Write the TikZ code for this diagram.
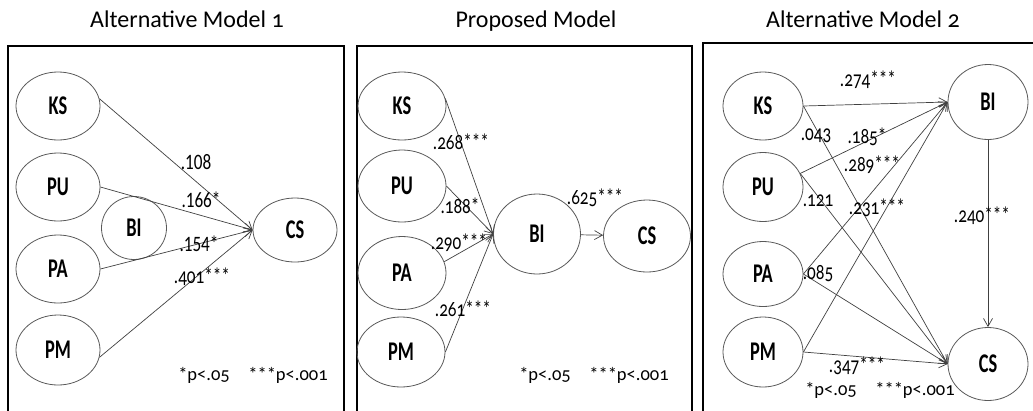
\documentclass[tikz,border=0pt]{standalone}
\usepackage{fontspec}
\setmainfont{Carlito}[Numbers=OldStyle]
\newfontfamily\latfont{Carlito}[FakeStretch=0.68]
\newfontfamily\coeffont{Carlito}[FakeStretch=0.78, Numbers=OldStyle]
\newfontfamily\coeflin{Carlito}[FakeStretch=0.78]
\usetikzlibrary{arrows.meta, shapes.geometric}

\begin{document}
\begin{tikzpicture}[
  x=1bp, y=-1bp,
  latent/.style={draw=black!65, ellipse, line width=0.8bp, inner sep=0pt,
    minimum width=84bp, minimum height=68bp,
    font=\latfont\bfseries\fontsize{27bp}{29bp}\selectfont},
  arr/.style={-{Straight Barb[length=8bp, width=9bp]}, line width=0.7bp, draw=black!75},
  coef/.style={inner sep=0pt, font=\coeffont\fontsize{22bp}{24bp}\selectfont},
  coeflin/.style={coef, font=\coeflin\fontsize{22bp}{24bp}\selectfont},
  note/.style={inner sep=0pt, font=\fontsize{18.5bp}{20bp}\selectfont},
  title/.style={inner sep=0pt, anchor=base, font=\fontsize{24bp}{26bp}\selectfont},
  panel/.style={draw, line width=1.8bp}
]
\useasboundingbox (0,0) rectangle (1033,410);
\clip (0,0) rectangle (1033,410);

% titles
\node[title] (t1) at (187,27) {Alternative Model 1};
\node[title] (t2) at (536,27) {Proposed Model};
\node[title] (t3) at (863,27) {Alternative Model 2};

% frames
\draw[panel] (8,46) rectangle (344,425);
\draw[panel] (357,46) rectangle (692,425);
\draw[panel] (703,43) rectangle (1045,425);

% alternative model 1
\node[latent] (KS1) at (58,106) {KS};
\node[latent] (PU1) at (58,187) {PU};
\node[latent] (PA1) at (58,269) {PA};
\node[latent, minimum height=70bp] (PM1) at (58,350) {PM};
\node[latent, minimum width=65bp, minimum height=63bp] (BI1) at (134,228) {BI};
\node[latent, minimum height=64bp] (CS1) at (295,230) {CS};
\draw[arr] (KS1.10) -- (CS1.west) node[coeflin] at (196,162) {.108};
\draw[arr] (PU1.east) -- (CS1.west) node[coeflin] at (201,200) {.166*};
\draw[arr] (PA1.east) -- (CS1.west) node[coeflin] at (199,244) {.154*};
\draw[arr] (PM1.-10) -- (CS1.west) node[coef] at (202,277) {.401***};
\node[note] (n1) at (253,375) {*p<.05\quad ***p<.001};

% proposed model
\node[latent, minimum width=88bp] (KS2) at (402,106) {KS};
\node[latent, minimum width=88bp, minimum height=72bp] (PU2) at (402,186) {PU};
\node[latent, minimum width=88bp, minimum height=73bp] (PA2) at (402,273) {PA};
\node[latent, minimum width=88bp, minimum height=70bp] (PM2) at (401,352) {PM};
\node[latent, minimum width=87bp, minimum height=80bp] (BI2) at (537,234) {BI};
\node[latent, minimum width=87bp, minimum height=72bp] (CS2) at (647,236) {CS};
\draw[arr] (KS2.10) -- (BI2.west) node[coef] at (461,142) {.268***};
\draw[arr] (PU2.east) -- (BI2.west) node[coef] at (460,206) {.188*};
\draw[arr] (PA2.15) -- (BI2.west) node[coef] at (459,243) {.290***};
\draw[arr] (PM2.east) -- (BI2.west) node[coef] at (463,309) {.261***};
\draw[arr] (BI2) -- (CS2) node[coef] at (595,198) {.625***};
\node[note] (n2) at (594,375) {*p<.05\quad ***p<.001};

% alternative model 2
\node[latent, minimum width=80bp] (KS3) at (763,106) {KS};
\node[latent, minimum width=80bp, minimum height=69bp] (PU3) at (763,187) {PU};
\node[latent, minimum width=80bp, minimum height=65bp] (PA3) at (763,274) {PA};
\node[latent, minimum width=80bp, minimum height=70bp] (PM3) at (763,352) {PM};
\node[latent, minimum width=80bp, minimum height=75bp] (BI3) at (988,102) {BI};
\node[latent, minimum width=80bp, minimum height=73bp] (CS3) at (988,364) {CS};
\draw[arr] (KS3.east) -- (BI3.west) node[coef] at (868,80) {.274***};
\draw[arr] (KS3.east) -- (CS3.west) node[coef] at (816,136) {.043};
\draw[arr] (PU3.20) -- (BI3.west) node[coef] at (867,137) {.185*};
\draw[arr] (PU3.20) -- (CS3.west) node[coef] at (818,201) {.121};
\draw[arr] (PA3.east) -- (BI3.west) node[coef] at (872,165) {.289***};
\draw[arr] (PA3.east) -- (CS3.west) node[coef] at (818,274) {.085};
\draw[arr] (PM3.east) -- (BI3.west) node[coef] at (877,208) {.231***};
\draw[arr] (PM3.east) -- (CS3.west) node[coef] at (857,366) {.347***};
\draw[arr] (BI3) -- (CS3) node[coef] at (982,216) {.240***};
\node[note] (n3) at (880,390) {*p<.05\quad ***p<.001};
\end{tikzpicture}
\end{document}
